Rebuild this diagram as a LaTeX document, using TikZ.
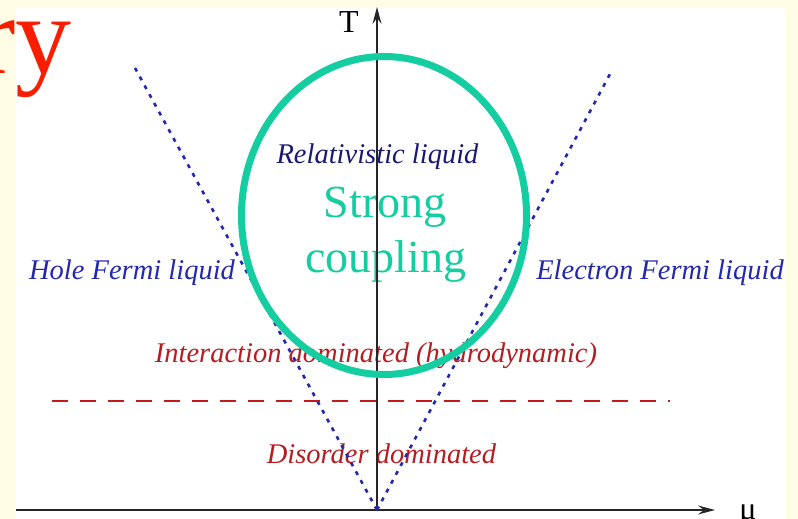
\documentclass[tikz,border=0pt]{standalone}
\usepackage{fontspec}
\setmainfont{Liberation Serif}
\usetikzlibrary{arrows.meta}

\definecolor{slidebg}{RGB}{255,253,228}
\definecolor{titlered}{RGB}{250,30,0}
\definecolor{phaseblue}{RGB}{35,40,175}
\definecolor{darkblue}{RGB}{25,25,115}
\definecolor{phasered}{RGB}{180,30,35}
\definecolor{couplegreen}{RGB}{20,205,160}

\begin{document}
\begin{tikzpicture}[x=1pt, y=-1pt, every node/.style={inner sep=0pt},
  phase/.style={anchor=base, font=\fontsize{28.5}{30}\selectfont\itshape},
  axis/.style={line width=1.2pt, black!85, -{Stealth[length=17pt,width=9pt,inset=6pt]}},
  crossover/.style={line width=2.6pt, phaseblue, dash pattern=on 4pt off 6pt}]
  \useasboundingbox (0,0) rectangle (798,519);

  % slide background
  \fill[slidebg] (0,0) rectangle (798,519);
  \fill[white] (16,8) rectangle (786,519);
  \node[anchor=base east, text=titlered, font=\fontsize{112}{112}\selectfont] (title) at (72,74) {ry};

  % region labels
  \node[phase, text=darkblue] (rel) at (377.5,163) {Relativistic liquid};
  \node[phase, text=phaseblue] (hole) at (132,279) {Hole Fermi liquid};
  \node[phase, text=phaseblue] (elec) at (660,279) {Electron Fermi liquid};
  \node[phase, text=phasered] (hydro) at (376,362) {Interaction dominated (hydrodynamic)};
  \node[phase, text=phasered] (disorder) at (381.5,463) {Disorder dominated};
  \node[anchor=base, text=couplegreen, font=\fontsize{46}{46}\selectfont] (strong) at (385,217) {Strong};
  \node[anchor=base, text=couplegreen, font=\fontsize{46}{46}\selectfont] (coupling) at (386,272) {coupling};

  % axes
  \coordinate (o) at (377,510);
  \coordinate (ttip) at (377,7);
  \coordinate (mutip) at (715,510);
  \coordinate (mustart) at (16,510);
  \draw[axis] (o) -- (ttip);
  \draw[axis] (mustart) -- (mutip);
  \node[anchor=base, font=\fontsize{32}{32}\selectfont] (tlabel) at (349,33) {T};
  \node[anchor=base, font=\fontsize{32}{32}\selectfont] (mulabel) at (748,519) {μ};

  % crossover lines
  \coordinate (holeend) at (135,68);
  \coordinate (elecend) at (610,74);
  \draw[crossover] (o) -- (holeend);
  \draw[crossover] (o) -- (elecend);

  % disorder boundary
  \coordinate (dleft) at (52,401);
  \coordinate (dright) at (670,401);
  \draw[line width=1.5pt, phasered!80!red, dash pattern=on 16pt off 12pt] (dleft) -- (dright);

  % strong coupling region
  \draw[line width=7pt, couplegreen] (384,215.5) ellipse [x radius=142.5, y radius=159];
\end{tikzpicture}
\end{document}
